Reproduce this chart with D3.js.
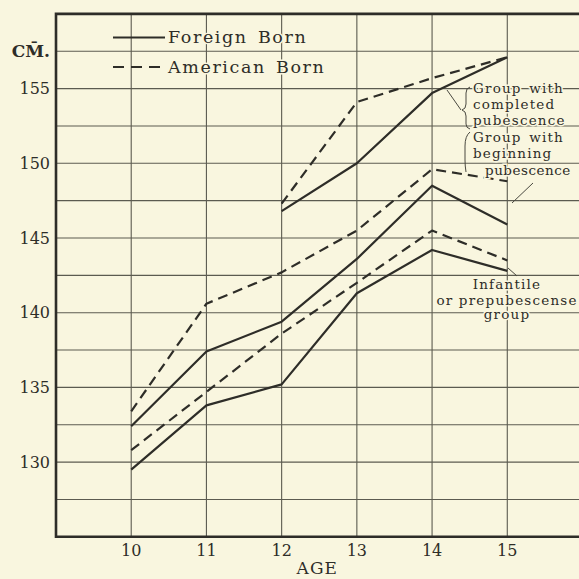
<!DOCTYPE html>
<html lang="en">
<head>
  <meta charset="utf-8" />
  <title>Height by age and pubescence</title>
  <style>
    body {
      margin: 0;
      padding: 0;
      background-color: #f9f6df;
    }
    svg text {
      font-family: "DejaVu Serif", "Liberation Serif", serif;
      fill: #2e2d28;
    }
    .grid line {
      stroke: #5c5b50;
      stroke-width: 1.1px;
    }
    .series {
      fill: none;
      stroke: #2e2d28;
      stroke-width: 2.2px;
      stroke-linejoin: round;
    }
    .halo {
      paint-order: stroke;
      stroke: #f9f6df;
      stroke-width: 3px;
    }
  </style>
  <script src="https://d3js.org/d3.v7.min.js"></script>
</head>
<body>
  <svg width="579" height="579"></svg>
  <script>
    // values (cm)
    const ages = [10, 11, 12, 13, 14, 15];
    const agesLate = [12, 13, 14, 15];

    const foreignInfantile  = [129.5, 133.8, 135.2, 141.3, 144.2, 142.8];
    const americanInfantile = [130.8, 134.7, 138.6, 142.0, 145.5, 143.5];
    const foreignBeginning  = [132.4, 137.4, 139.4, 143.6, 148.5, 145.9];
    const americanBeginning = [133.4, 140.6, 142.7, 145.5, 149.6, 148.8];
    const foreignCompleted  = [146.8, 150.0, 154.7, 157.1];
    const americanCompleted = [147.3, 154.1, 155.7, 157.1];

    const yTicks = [130, 135, 140, 145, 150, 155];
    const xTicks = [10, 11, 12, 13, 14, 15];

    const series = [
      { ages: ages, values: foreignInfantile, dashed: false },
      { ages: ages, values: americanInfantile, dashed: true },
      { ages: ages, values: foreignBeginning, dashed: false },
      { ages: ages, values: americanBeginning, dashed: true },
      { ages: agesLate, values: foreignCompleted, dashed: false },
      { ages: agesLate, values: americanCompleted, dashed: true }
    ];

    const svg = d3.select("svg");

    const x = d3.scaleLinear().domain([9, 16]).range([56, 582.5]);
    const y = d3.scaleLinear().domain([125, 160]).range([536.8, 13.9]);

    // grid
    const grid = svg.append("g").attr("class", "grid");
    grid.selectAll("line.h")
      .data(d3.range(125, 160.1, 2.5))
      .join("line")
      .attr("class", "h")
      .attr("x1", x(9)).attr("x2", x(16))
      .attr("y1", d => y(d)).attr("y2", d => y(d));
    grid.selectAll("line.v")
      .data(d3.range(9, 17))
      .join("line")
      .attr("class", "v")
      .attr("x1", d => x(d)).attr("x2", d => x(d))
      .attr("y1", y(125)).attr("y2", y(160));

    // frame
    svg.append("path")
      .attr("d", `M${x(16)},${y(160)} H${x(9)} V${y(125)} H${x(16)}`)
      .attr("fill", "none")
      .attr("stroke", "#2e2d28")
      .attr("stroke-width", 2.6);

    // lines
    const line = d3.line()
      .x(d => x(d[0]))
      .y(d => y(d[1]));

    svg.append("g")
      .selectAll("path")
      .data(series)
      .join("path")
      .attr("class", "series")
      .attr("stroke-dasharray", d => d.dashed ? "10,6" : null)
      .attr("d", d => line(d.ages.map((a, i) => [a, d.values[i]])));

    // y axis labels
    svg.append("g")
      .selectAll("text")
      .data(yTicks)
      .join("text")
      .attr("x", 50)
      .attr("y", d => y(d))
      .attr("dy", "0.36em")
      .attr("text-anchor", "end")
      .attr("font-size", 16)
      .text(d => d);

    svg.append("text")
      .attr("x", 50)
      .attr("y", y(157.5))
      .attr("dy", "0.36em")
      .attr("text-anchor", "end")
      .attr("font-size", 17)
      .attr("font-weight", "bold")
      .text("CM\u0304.");

    // x axis labels
    svg.append("g")
      .selectAll("text")
      .data(xTicks)
      .join("text")
      .attr("x", d => x(d))
      .attr("y", 556)
      .attr("text-anchor", "middle")
      .attr("font-size", 16)
      .text(d => d);

    svg.append("text")
      .attr("x", (x(9) + x(16)) / 2 - 2)
      .attr("y", 574)
      .attr("text-anchor", "middle")
      .attr("font-size", 17)
      .attr("letter-spacing", 1)
      .text("AGE");

    // legend
    const legend = svg.append("g");
    legend.append("line")
      .attr("x1", 113).attr("x2", 165).attr("y1", 37.5).attr("y2", 37.5)
      .attr("stroke", "#2e2d28").attr("stroke-width", 2.2);
    legend.append("line")
      .attr("x1", 113).attr("x2", 165).attr("y1", 67).attr("y2", 67)
      .attr("stroke", "#2e2d28").attr("stroke-width", 2.2)
      .attr("stroke-dasharray", "11,7");
    legend.selectAll("text")
      .data([{ t: "Foreign Born", y: 43 }, { t: "American Born", y: 72.5 }])
      .join("text")
      .attr("class", "halo")
      .attr("x", 168)
      .attr("y", d => d.y)
      .attr("font-size", 17.5)
      .attr("letter-spacing", 1.6)
      .attr("word-spacing", 3)
      .text(d => d.t);

    // annotations
    const note = svg.append("g")
      .attr("font-size", 13.5)
      .attr("letter-spacing", 1.2);
    const noteLines = [
      { text: "Group with", x: 473, y: 93 },
      { text: "completed", x: 473, y: 109 },
      { text: "pubescence", x: 473, y: 125 },
      { text: "Group with", x: 473, y: 142 },
      { text: "beginning", x: 473, y: 158 },
      { text: "pubescence", x: 485, y: 175 }
    ];
    note.selectAll("text.top")
      .data(noteLines)
      .join("text")
      .attr("class", "halo top")
      .attr("x", d => d.x)
      .attr("y", d => d.y)
      .attr("word-spacing", 2)
      .attr("letter-spacing", (d, i) => i === 5 ? 0.5 : null)
      .text(d => d.text);

    const infantLines = [
      { text: "Infantile", y: 289 },
      { text: "or prepubescense", y: 305 },
      { text: "group", y: 319 }
    ];
    note.selectAll("text.bot")
      .data(infantLines)
      .join("text")
      .attr("class", "halo bot")
      .attr("x", 507)
      .attr("y", d => d.y)
      .attr("text-anchor", "middle")
      .text(d => d.text);

    // braces and leaders
    const ink = svg.append("g")
      .attr("fill", "none")
      .attr("stroke", "#4a4940")
      .attr("stroke-width", 1);
    ink.append("path")
      .attr("d", "M470,87 Q466,88 466,93 L466,104 Q466,109 462,110 Q466,111 466,116 L466,124 Q466,128 470,129");
    ink.append("path")
      .attr("d", "M470,132 Q465,136 465,146 L465,160 Q465,166 466,172");
    ink.append("path").attr("d", "M447,90 L461,110");
    ink.append("path").attr("d", "M533,183 L512,203");
    ink.append("path").attr("d", "M508,268 L517,276");
  </script>
</body>
</html>
